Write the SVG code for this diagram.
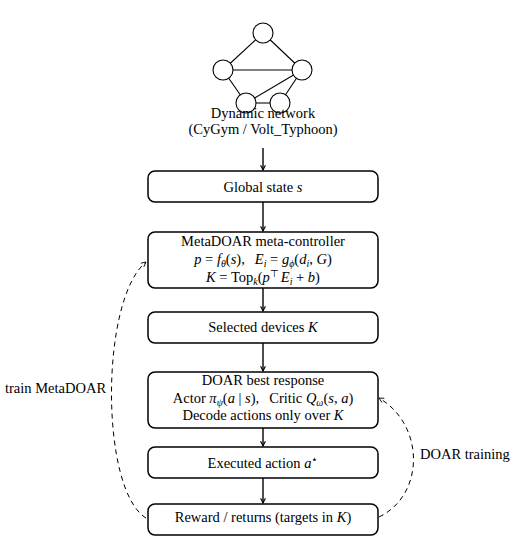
<svg xmlns="http://www.w3.org/2000/svg" width="530" height="542" viewBox="0 0 530 542">
<style>
text{font-family:"Liberation Serif","Times New Roman",serif;font-size:14.5px;fill:#000}
.c{text-anchor:middle}
.i{font-style:italic}
.box{fill:#fff;stroke:#000;stroke-width:1.5}
.edge{stroke:#000;stroke-width:1.1;fill:none}
.node{fill:#fff;stroke:#000;stroke-width:1.1}
.arr{stroke:#000;stroke-width:1.4;fill:none;marker-end:url(#ah)}
.dash{stroke:#000;stroke-width:1;fill:none;stroke-dasharray:5,4;marker-end:url(#ah2)}
</style>
<defs>
<marker id="ah" viewBox="0 0 10 10" refX="9" refY="5" markerWidth="6" markerHeight="6" orient="auto" markerUnits="userSpaceOnUse">
<path d="M1,1 L9,5 L1,9" fill="none" stroke="#000" stroke-width="1.8"/>
</marker>
<marker id="ah2" viewBox="0 0 10 10" refX="9" refY="5" markerWidth="6" markerHeight="6" orient="auto" markerUnits="userSpaceOnUse">
<path d="M1,1 L9,5 L1,9" fill="none" stroke="#000" stroke-width="1.4"/>
</marker>
</defs>

<g id="network">
<line class="edge" x1="263" y1="33" x2="223" y2="70"/>
<line class="edge" x1="263" y1="33" x2="302" y2="70"/>
<line class="edge" x1="223" y1="70" x2="302" y2="70"/>
<line class="edge" x1="223" y1="70" x2="246" y2="103"/>
<line class="edge" x1="302" y1="70" x2="280" y2="103"/>
<line class="edge" x1="302" y1="70" x2="246" y2="103"/>
<line x1="246" y1="103" x2="280" y2="103" stroke="#777" stroke-width="2.2"/>
<circle class="node" cx="263" cy="33" r="10"/>
<circle class="node" cx="223" cy="70" r="10"/>
<circle class="node" cx="302" cy="70" r="10"/>
<circle class="node" cx="246" cy="103" r="10"/>
<circle class="node" cx="280" cy="103" r="10"/>
<text class="c" x="263" y="118">Dynamic network</text>
<text class="c" x="263" y="134">(CyGym / Volt_Typhoon)</text>
</g>

<g id="global">
<rect class="box" x="148" y="171" width="230" height="31" rx="7"/>
<text class="c" x="263" y="192">Global state <tspan class="i">s</tspan></text>
</g>

<g id="meta">
<rect class="box" x="148" y="232" width="230" height="56" rx="7"/>
<text class="c" x="263" y="246">MetaDOAR meta-controller</text>
<text class="c" x="263" y="264"><tspan class="i">p</tspan> = <tspan class="i">f</tspan><tspan class="i" font-size="10" dy="3">θ</tspan><tspan dy="-3">(</tspan><tspan class="i">s</tspan>),<tspan dx="10" class="i">E</tspan><tspan class="i" font-size="10" dy="3">i</tspan><tspan dy="-3"> = </tspan><tspan class="i">g</tspan><tspan class="i" font-size="10" dy="3">ϕ</tspan><tspan dy="-3">(</tspan><tspan class="i">d</tspan><tspan class="i" font-size="10" dy="3">i</tspan><tspan dy="-3">, </tspan><tspan class="i">G</tspan>)</text>
<text class="c" x="263" y="282"><tspan class="i">K</tspan> = Top<tspan class="i" font-size="10" dy="3">k</tspan><tspan dy="-3">(</tspan><tspan class="i">p</tspan><tspan font-size="10" dy="-5">⊤</tspan><tspan dy="5" dx="2" class="i">E</tspan><tspan class="i" font-size="10" dy="3">i</tspan><tspan dy="-3"> + </tspan><tspan class="i">b</tspan>)</text>
</g>

<g id="selected">
<rect class="box" x="148" y="312" width="230" height="31" rx="7"/>
<text class="c" x="263" y="332">Selected devices <tspan class="i">K</tspan></text>
</g>

<g id="doar">
<rect class="box" x="148" y="372" width="230" height="56" rx="7"/>
<text class="c" x="263" y="385">DOAR best response</text>
<text class="c" x="263" y="403">Actor <tspan class="i">π</tspan><tspan class="i" font-size="10" dy="3">ψ</tspan><tspan dy="-3">(</tspan><tspan class="i">a</tspan> | <tspan class="i">s</tspan>),<tspan dx="10">Critic </tspan><tspan class="i">Q</tspan><tspan class="i" font-size="10" dy="3">ω</tspan><tspan dy="-3">(</tspan><tspan class="i">s</tspan>, <tspan class="i">a</tspan>)</text>
<text class="c" x="263" y="420">Decode actions only over <tspan class="i">K</tspan></text>
</g>

<g id="executed">
<rect class="box" x="148" y="447" width="230" height="31" rx="7"/>
<text class="c" x="263" y="468">Executed action <tspan class="i">a</tspan><tspan font-size="11" dy="-5">⋆</tspan></text>
</g>

<g id="reward">
<rect class="box" x="148" y="504" width="230" height="31" rx="7"/>
<text class="c" x="263" y="522">Reward / returns (targets in <tspan class="i">K</tspan>)</text>
</g>

<g id="connectors">
<line class="arr" x1="263" y1="148" x2="263" y2="170"/>
<line class="arr" x1="263" y1="202" x2="263" y2="231"/>
<line class="arr" x1="263" y1="288" x2="263" y2="311"/>
<line class="arr" x1="263" y1="343" x2="263" y2="371"/>
<line class="arr" x1="263" y1="428" x2="263" y2="446"/>
<line class="arr" x1="263" y1="478" x2="263" y2="503"/>
<path class="dash" d="M146,518 C100,490 100,300 146,262"/>
<path class="dash" d="M379,517 C425,495 425,425 379,398"/>
<text x="5" y="393">train MetaDOAR</text>
<text x="420" y="459">DOAR training</text>
</g>
</svg>
